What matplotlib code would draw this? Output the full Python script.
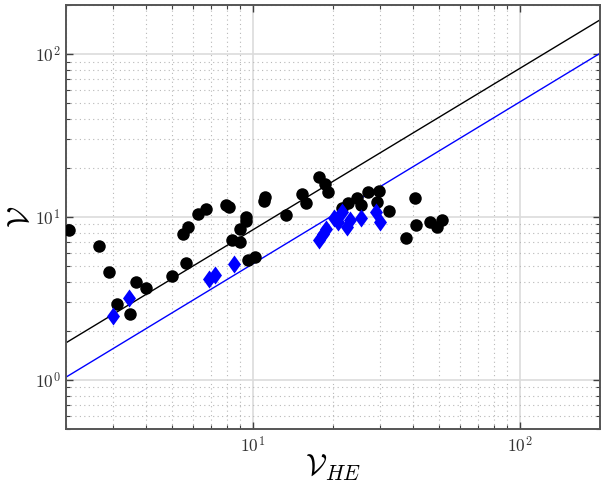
import matplotlib
matplotlib.use("Agg")
import matplotlib.pyplot as plt
from matplotlib.path import Path
import numpy as np

plt.rcParams['mathtext.fontset'] = 'cm'
plt.rcParams['font.family'] = ['cmr10', 'DejaVu Serif']
plt.rcParams['axes.formatter.use_mathtext'] = True

# Black circles (V_HE, V)
black_x = [2.06, 2.66, 2.90, 3.10, 3.48, 3.67, 4.00, 5.01, 5.64, 5.47, 5.75, 6.25,
           6.69, 7.95, 8.16, 8.40, 8.98, 9.00, 9.44, 9.47, 9.58, 10.20, 11.09, 10.99,
           13.36, 15.28, 15.91, 17.74, 18.68, 19.21, 21.66, 22.81, 24.50, 25.51, 26.98,
           29.65, 29.27, 32.53, 40.47, 40.92, 37.49, 46.16, 49.14, 51.03]
black_y = [8.36, 6.64, 4.60, 2.91, 2.53, 3.98, 3.65, 4.36, 5.20, 7.87, 8.65, 10.43,
           11.24, 11.85, 11.47, 7.20, 6.98, 8.44, 9.45, 10.04, 5.45, 5.72, 13.21, 12.59,
           10.29, 13.78, 12.14, 17.67, 15.94, 14.30, 11.36, 12.14, 13.02, 11.85, 14.23,
           14.54, 12.41, 10.88, 13.02, 8.93, 7.40, 9.36, 8.68, 9.59]

# Blue diamonds
blue_x = [2.99, 3.44, 6.89, 7.21, 8.52, 17.71, 18.33, 18.89, 20.14, 20.94, 21.66,
          22.48, 23.15, 25.44, 29.10, 29.96]
blue_y = [2.48, 3.20, 4.18, 4.42, 5.14, 7.23, 7.81, 8.44, 9.82, 9.32, 10.78,
          8.72, 9.59, 9.82, 10.78, 9.36]

# Reference lines (endpoints)
line_x = [2, 200]
black_line_y = [1.69, 162]
blue_line_y = [1.04, 101]

fig = plt.figure(figsize=(6.01, 4.86), dpi=100)
ax = fig.add_axes([0.1098, 0.1173, 0.8885, 0.8724])

ax.set_xscale('log')
ax.set_yscale('log')
ax.set_xlim(2, 200)
ax.set_ylim(0.5, 200)

ax.grid(True, which='major', color='#dcdcdc', linestyle='-', linewidth=1.2, zorder=0)
ax.grid(True, which='minor', color='#b8b8b8', linestyle=(0, (1, 3)), linewidth=0.8, zorder=0)
ax.set_axisbelow(True)

ax.plot(line_x, black_line_y, color='black', lw=1.0, zorder=2)
ax.plot(line_x, blue_line_y, color='#0000ff', lw=1.0, zorder=2)

ax.plot(black_x, black_y, linestyle='none', marker='o', markersize=9,
        color='black', markeredgewidth=0, zorder=3)
diamond = Path([(0, -1), (0.72, 0), (0, 1), (-0.72, 0), (0, -1)],
               [Path.MOVETO, Path.LINETO, Path.LINETO, Path.LINETO, Path.CLOSEPOLY])
ax.plot(blue_x, blue_y, linestyle='none', marker=diamond, markersize=13,
        color='#0000ff', markeredgewidth=0, zorder=4)

ax.tick_params(which='both', direction='in', top=True, right=True,
               colors='#404040', labelcolor='#333333', labelsize=12.5)
ax.tick_params(which='major', length=5, width=1.0, pad=4)
ax.tick_params(which='minor', length=3, width=0.8)
for s in ax.spines.values():
    s.set_color('#555555')
    s.set_linewidth(1.4)

ax.set_xlabel(r'$\mathcal{V}_{HE}$', fontsize=22)
ax.set_ylabel(r'$\mathcal{V}$', fontsize=22)
ax.xaxis.set_label_coords(0.5, -0.057)
ax.yaxis.set_label_coords(-0.058, 0.5)

fig.savefig('out.png', dpi=100)
